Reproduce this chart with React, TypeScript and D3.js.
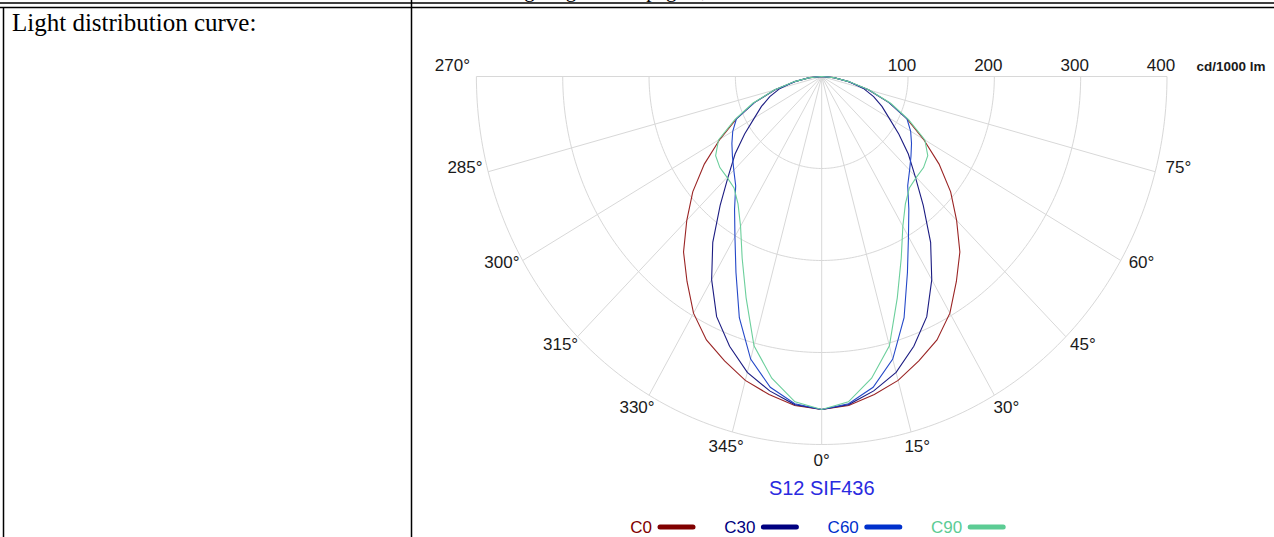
import React from 'react';
import * as d3 from 'd3';

const W = 1274;
const H = 537;

// gamma angle (deg from nadir) and intensity in cd/1000 lm
// planes are drawn mirrored (C0/C180, C30/C210 ...)
const gammas = [0, 5, 10, 15, 20, 25, 30, 35, 40, 45, 50, 55, 60, 65, 70, 75, 80, 85, 90];
const c0 = [362, 359, 351, 342, 329, 316, 297, 272, 249, 221, 195, 166, 136, 109, 83, 56, 31, 14, 0];
const c30 = [362, 358, 347, 333, 312, 288, 255, 220, 183, 153, 131, 109, 90, 77, 64, 50, 32, 15, 0];
const c60 = [362, 357, 343, 318, 279, 235, 201, 176, 155, 144, 135, 127, 119, 109, 83, 56, 31, 14, 0];
const c90 = [362, 355, 333, 303, 256, 218, 188, 169, 158, 155, 154, 150, 138, 111, 85, 57, 32, 14, 0];

const seriesNames = ['C0', 'C30', 'C60', 'C90'];
const seriesValues = [c0, c30, c60, c90];
const lineColors = ['#9a2424', '#1c1c82', '#2448c8', '#6ccf9c'];
const legendColors = ['#800000', '#000080', '#0030cc', '#5ccc94'];

const ringTicks = [100, 200, 300, 400];
const angleTicks = [270, 285, 300, 315, 330, 345, 0, 15, 30, 45, 60, 75];
const unitLabel = 'cd/1000 lm';
const title = 'S12 SIF436';
const rowLabel = 'Light distribution curve:';

const cx = 821.7;
const cy = 76.5;
const rMax = 400;
const sx = d3.scaleLinear().domain([0, rMax]).range([0, 345.3]);
const sy = d3.scaleLinear().domain([0, rMax]).range([0, 368]);

const rad = (g: number) => (g * Math.PI) / 180;
const toXY = (g: number, r: number): [number, number] => [
  cx + sx(r) * Math.sin(rad(g)),
  cy + sy(r) * Math.cos(rad(g)),
];

const line = d3.line<[number, number]>().x((d) => d[0]).y((d) => d[1]);

const ringPath = (r: number) => {
  const pts = d3.range(-90, 90.5, 1).map((g) => toXY(g, r));
  return line(pts) as string;
};

const curvePath = (vals: number[]) => {
  const pts: [number, number][] = [];
  for (let i = gammas.length - 1; i > 0; i--) pts.push(toXY(-gammas[i], vals[i]));
  for (let i = 0; i < gammas.length; i++) pts.push(toXY(gammas[i], vals[i]));
  return line(pts) as string;
};

const sans = '"Liberation Sans", Arial, sans-serif';
const serif = '"Liberation Serif", "Times New Roman", serif';

export default function App() {
  const spokes = d3.range(-90, 90.5, 15);
  return (
    <svg
      width={W}
      height={H}
      style={{ position: 'absolute', left: 0, top: 0, background: '#fff' }}
    >
      <rect width={W} height={H} fill="#fff" />
      {/* table frame, bottom of the previous row's text peeks in at the top */}
      <text x={480} y={-3} fontFamily={serif} fontSize={21} fill="#000">
        wiring diagram see page 6, ...
      </text>
      <line x1={0} x2={W} y1={3} y2={3} stroke="#000" strokeWidth={1.5} />
      <line x1={0} x2={W} y1={7.5} y2={7.5} stroke="#000" strokeWidth={1.5} />
      <line x1={3.5} x2={3.5} y1={8} y2={H} stroke="#000" strokeWidth={1.5} />
      <line x1={411.5} x2={411.5} y1={0} y2={H} stroke="#000" strokeWidth={1.5} />
      <text x={12} y={31} fontFamily={serif} fontSize={25} fill="#000">
        {rowLabel}
      </text>

      {/* grid */}
      <g fill="none" stroke="#d8d8d8" strokeWidth={1}>
        {ringTicks.map((r) => (
          <path key={r} d={ringPath(r)} />
        ))}
        {spokes.map((g) => {
          const [x2, y2] = toXY(g, rMax);
          return <line key={g} x1={cx} y1={cy} x2={x2} y2={y2} />;
        })}
      </g>

      {/* curves */}
      <g fill="none" strokeWidth={1.1}>
        {seriesValues.map((vals, i) => (
          <path key={seriesNames[i]} d={curvePath(vals)} stroke={lineColors[i]} />
        ))}
      </g>

      {/* ring labels */}
      <g fontFamily={sans} fontSize={17} fill="#1a1a1a" textAnchor="middle">
        {ringTicks.map((r) => (
          <text key={r} x={cx + sx(r) - 6} y={65} dy="0.35em">
            {r}
          </text>
        ))}
      </g>
      <text
        x={1231}
        y={66}
        dy="0.35em"
        textAnchor="middle"
        fontFamily={sans}
        fontSize={13.5}
        fontWeight="bold"
        fill="#1a1a1a"
      >
        {unitLabel}
      </text>

      {/* angle labels */}
      <g fontFamily={sans} fontSize={17} fill="#1a1a1a" textAnchor="middle">
        {angleTicks.map((a) => {
          const g = a >= 180 ? a - 360 : a;
          const [x, y] = toXY(g, rMax);
          const s = Math.sin(rad(g));
          const c = Math.cos(rad(g));
          return (
            <text key={a} x={x + 24 * s} y={y + 27 * c - 11.5} dy="0.35em">
              {a}°
            </text>
          );
        })}
      </g>

      <text
        x={cx}
        y={488}
        dy="0.35em"
        textAnchor="middle"
        fontFamily={sans}
        fontSize={20}
        fill="#2a2ae0"
      >
        {title}
      </text>

      {/* legend */}
      <g fontFamily={sans} fontSize={17}>
        {seriesNames.map((n, i) => {
          const x0 = 658 + i * 103.4;
          return (
            <g key={n}>
              <text x={x0 - 6} y={527} dy="0.35em" textAnchor="end" fill={legendColors[i]}>
                {n}
              </text>
              <line
                x1={x0 + 2}
                x2={x0 + 35}
                y1={527}
                y2={527}
                stroke={legendColors[i]}
                strokeWidth={5}
                strokeLinecap="round"
              />
            </g>
          );
        })}
      </g>
    </svg>
  );
}
